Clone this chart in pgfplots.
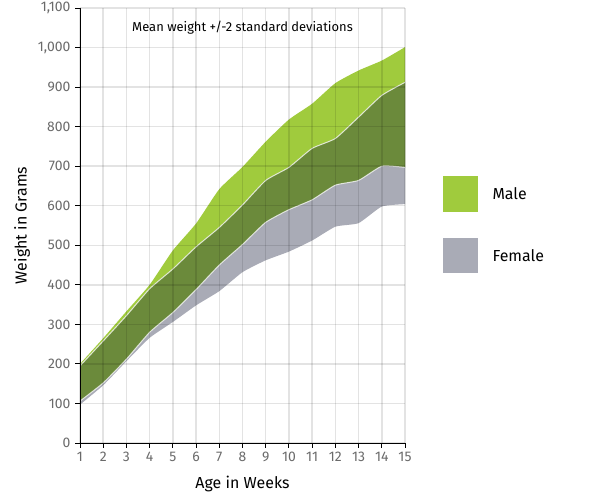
\documentclass[border=0pt]{standalone}
\usepackage{pgfplots}
\pgfplotsset{compat=1.18}
\usepgfplotslibrary{fillbetween}
\usepackage{pgfplotstable}
\usepackage{fontspec}
\setmainfont{Fira Sans}
\definecolor{malec}{HTML}{A0CB3D}
\definecolor{femc}{HTML}{A9ABB6}
\definecolor{bothc}{HTML}{6B8A3B}
\definecolor{tickc}{HTML}{6A6A6A}
\pgfplotstableread{
week mu ml fu fl
1 200 106 195 97
2 265 152 258 146
3 333 212 322 207
4 400 280 390 266
5 487 330 440 306
6 555 388 496 348
7 642 450 545 384
8 698 502 602 432
9 762 558 664 462
10 818 590 697 484
11 858 615 745 512
12 910 652 770 547
13 942 664 824 556
14 967 700 879 598
15 1001 697 912 604
}\datatab
\begin{document}
\begin{tikzpicture}
\begin{axis}[
  at={(80bp,60bp)}, anchor=south west,
  scale only axis, width=325bp, height=435bp,
  xmin=1, xmax=15, ymin=0, ymax=1100,
  xtick={1,...,15}, ytick={0,100,...,1100},
  axis x line*=bottom, axis y line*=left,
  axis line style={black, line width=0.9bp},
  tick style={black, line width=0.9bp},
  tick align=outside, major tick length=5bp,
  grid=major,
  major grid style={line width=1.5bp, draw=black, opacity=0.11},
  axis on top,
  /pgf/number format/assume math mode=true,
  /pgf/number format/1000 sep={,},
  tick label style={font=\fontsize{14}{14}\selectfont, text=tickc},
  xticklabel style={yshift=-1bp},
  yticklabel style={xshift=-1bp},
  xlabel={Age in Weeks}, ylabel={Weight in Grams},
  label style={font=\fontsize{16}{16}\selectfont},
  xlabel style={at={(axis description cs:0.5,0)}, anchor=center, yshift=-41bp},
  ylabel style={at={(axis description cs:-0.178,0.5)}, anchor=center},
]
\addplot[name path=mu, draw=none, smooth, tension=0.3] table[x=week, y=mu] {\datatab};
\addplot[name path=ml, draw=none, smooth, tension=0.3] table[x=week, y=ml] {\datatab};
\addplot[name path=fu, draw=none, smooth, tension=0.3] table[x=week, y=fu] {\datatab};
\addplot[name path=fl, draw=none, smooth, tension=0.3] table[x=week, y=fl] {\datatab};
\addplot[fill=malec, draw=none] fill between[of=mu and ml];
\addplot[fill=femc, draw=none] fill between[of=fu and fl];
\addplot[fill=bothc, draw=none] fill between[of=fu and ml];
\addplot[draw=white, opacity=0.75, line width=1bp, smooth, tension=0.3] table[x=week, y=fu] {\datatab};
\addplot[draw=white, opacity=0.75, line width=1bp, smooth, tension=0.3] table[x=week, y=ml] {\datatab};
\node[font=\fontsize{13}{13}\selectfont, anchor=center] at (axis description cs:0.5,1) [yshift=-20bp] {Mean weight +/-2 standard deviations};
\end{axis}
\fill[malec] (443bp,291bp) rectangle (478bp,327bp);
\fill[femc] (443bp,230bp) rectangle (478bp,265bp);
\node[anchor=west, font=\fontsize{16}{16}\selectfont] at (489bp,309bp) {Male};
\node[anchor=west, font=\fontsize{16}{16}\selectfont] at (489bp,247bp) {Female};
\pgfresetboundingbox
\path[use as bounding box] (0,0) rectangle (605bp,503bp);
\end{tikzpicture}
\end{document}
